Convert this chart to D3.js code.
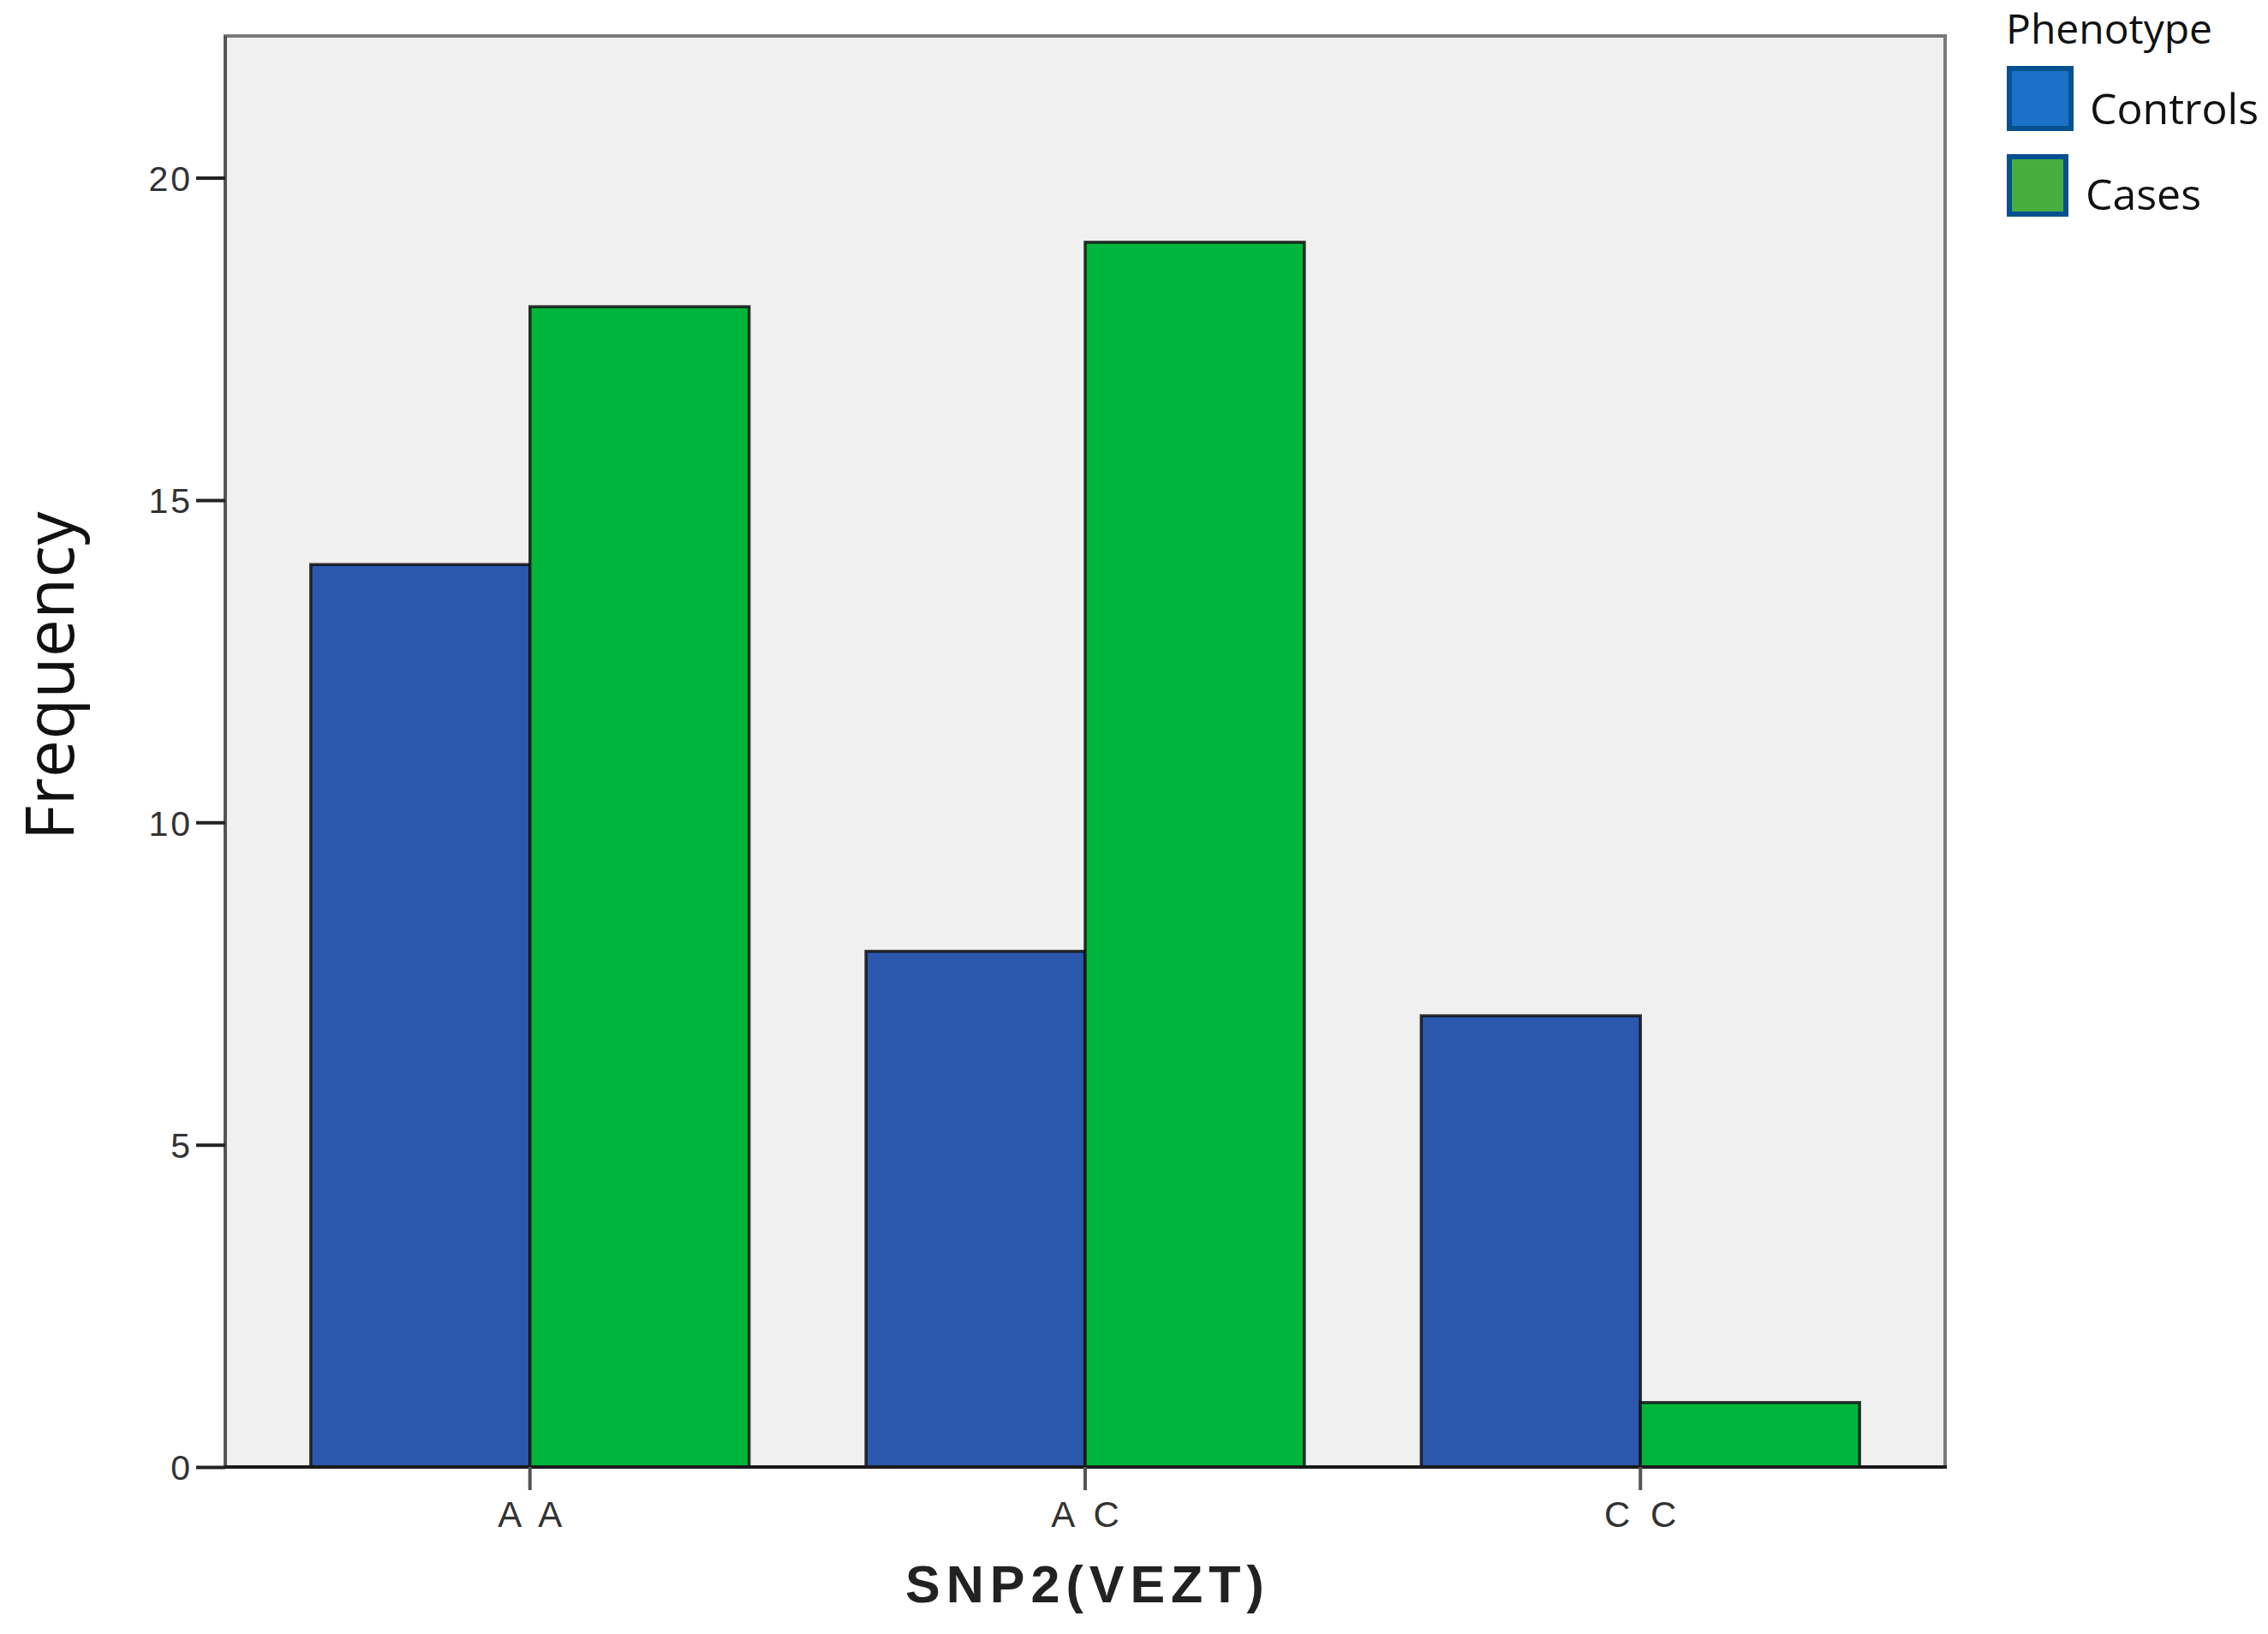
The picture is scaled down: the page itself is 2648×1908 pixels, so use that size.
<!DOCTYPE html>
<html>
<head>
<meta charset="utf-8">
<script src="https://cdn.jsdelivr.net/npm/d3@7/dist/d3.min.js"></script>
<style>
  html, body { margin: 0; padding: 0; background: #ffffff; }
  svg { display: block; }
</style>
</head>
<body>
<script>
// ---- data ----
const categories = ["A A", "A C", "C C"];
const seriesNames = ["Controls", "Cases"];
const controlsValues = [14, 8, 7];
const casesValues = [18, 19, 1];
const yTickValues = [0, 5, 10, 15, 20];
const barColors = ["#2b57ad", "#00b53b"];
const legendFill = ["#1b71c8", "#46ae3c"];

const W = 2648, H = 1908;
const plot = { left: 263, top: 42, right: 2271, bottom: 1713 };

const svg = d3.select("body").append("svg").attr("width", W).attr("height", H);

const y = d3.scaleLinear().domain([0, 22.2]).range([plot.bottom, plot.top]);
const x0 = d3.scaleBand().domain(categories).range([plot.left, plot.right])
  .paddingInner(0.2105).paddingOuter(0.154);
const x1 = d3.scaleBand().domain(seriesNames).range([0, x0.bandwidth()]);
const color = d3.scaleOrdinal().domain(seriesNames).range(barColors);

const rows = categories.map((c, i) => ({ cat: c, vals: [
  { s: "Controls", v: controlsValues[i] },
  { s: "Cases", v: casesValues[i] }
]}));

// plot background
svg.append("rect")
  .attr("x", plot.left).attr("y", plot.top)
  .attr("width", plot.right - plot.left).attr("height", plot.bottom - plot.top)
  .attr("fill", "#f0f0f0");

// bars
const groups = svg.append("g").selectAll("g").data(rows).join("g")
  .attr("transform", d => `translate(${x0(d.cat)},0)`);
groups.selectAll("rect").data(d => d.vals).join("rect")
  .attr("x", d => x1(d.s))
  .attr("y", d => y(d.v))
  .attr("width", x1.bandwidth())
  .attr("height", d => y(0) - y(d.v))
  .attr("fill", d => color(d.s))
  .attr("stroke", "#111")
  .attr("stroke-opacity", 0.85)
  .attr("stroke-width", 3.5);

// frame
svg.append("path")
  .attr("d", `M${plot.left},${plot.bottom} V${plot.top} H${plot.right} V${plot.bottom}`)
  .attr("fill", "none").attr("stroke", "#7a7a7a").attr("stroke-width", 4);
svg.append("line")
  .attr("x1", plot.left).attr("x2", plot.left)
  .attr("y1", plot.top).attr("y2", plot.bottom)
  .attr("stroke", "#555").attr("stroke-width", 4);
svg.append("line")
  .attr("x1", plot.left - 2).attr("x2", plot.right + 2)
  .attr("y1", plot.bottom).attr("y2", plot.bottom)
  .attr("stroke", "#1a1a1a").attr("stroke-width", 4);

// y axis
const yAxis = svg.append("g")
  .attr("transform", `translate(${plot.left},0)`)
  .call(d3.axisLeft(y).tickValues(yTickValues).tickSize(34).tickPadding(4).tickFormat(d3.format("d")));
yAxis.select(".domain").remove();
yAxis.selectAll(".tick line").attr("stroke", "#222").attr("stroke-width", 4);
yAxis.selectAll(".tick text")
  .attr("font-family", "'Liberation Sans', Arial, sans-serif")
  .attr("font-size", 41).attr("fill", "#333")
  .attr("letter-spacing", 3)
  .attr("dy", "0.36em");

// x axis
const xAxis = svg.append("g")
  .attr("transform", `translate(0,${plot.bottom})`)
  .call(d3.axisBottom(x0).tickSize(27).tickPadding(13));
xAxis.select(".domain").remove();
xAxis.selectAll(".tick line").attr("stroke", "#555").attr("stroke-width", 4);
xAxis.selectAll(".tick text")
  .attr("font-family", "'Liberation Sans', Arial, sans-serif")
  .attr("font-size", 42).attr("fill", "#333")
  .attr("letter-spacing", 6)
  .attr("dx", 3);

// axis titles
svg.append("text")
  .attr("x", 1270).attr("y", 1871)
  .attr("text-anchor", "middle")
  .attr("font-family", "'Liberation Sans', Arial, sans-serif")
  .attr("font-weight", "bold").attr("font-size", 61)
  .attr("letter-spacing", 7)
  .attr("fill", "#222")
  .text("SNP2(VEZT)");

svg.append("text")
  .attr("transform", "translate(86,789) rotate(-90)")
  .attr("text-anchor", "middle")
  .attr("font-family", "'Open Sans', sans-serif")
  .attr("font-size", 78)
  .attr("letter-spacing", 0.5)
  .attr("fill", "#111")
  .text("Frequency");

// legend
const lg = svg.append("g");
lg.append("text")
  .attr("x", 2342).attr("y", 51)
  .attr("font-family", "'Open Sans', sans-serif")
  .attr("font-size", 48).attr("fill", "#111")
  .text("Phenotype");
const legendItems = seriesNames.map((s, i) => ({ s, i }));
const swatchY = [80, 183];
const swatchW = [72, 66];
const labelX = [2440, 2435];
const labelY = [145, 245];
lg.selectAll("rect").data(legendItems).join("rect")
  .attr("x", 2346)
  .attr("y", d => swatchY[d.i])
  .attr("width", d => swatchW[d.i])
  .attr("height", d => (d.i === 0 ? 70 : 67))
  .attr("fill", d => legendFill[d.i])
  .attr("stroke", "#05508f").attr("stroke-width", 6);
lg.selectAll("text.item").data(legendItems).join("text")
  .attr("class", "item")
  .attr("x", d => labelX[d.i]).attr("y", d => labelY[d.i])
  .attr("font-family", "'Open Sans', sans-serif")
  .attr("font-size", 50).attr("fill", "#111")
  .text(d => d.s);
</script>
</body>
</html>
